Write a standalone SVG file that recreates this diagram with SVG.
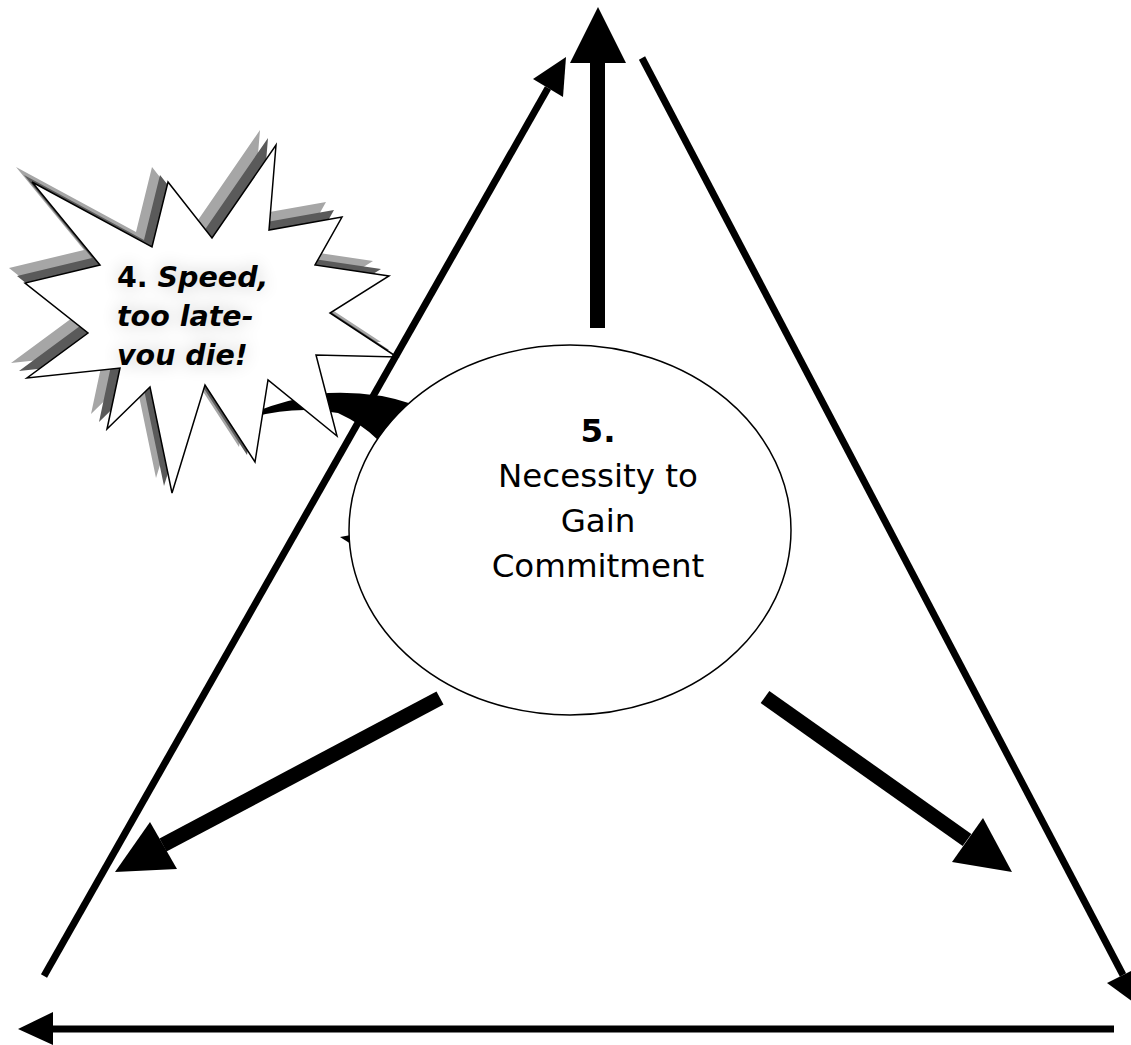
<svg xmlns="http://www.w3.org/2000/svg" width="1131" height="1045" viewBox="0 0 1131 1045">
  <style>
    .line { stroke: #000; stroke-width: 7; fill: none; stroke-linecap: butt; }
    .shaft { stroke: #000; stroke-width: 15; fill: none; stroke-linecap: butt; }
    .head { fill: #000; stroke: none; }
    .label { font-family: "DejaVu Sans", Verdana, sans-serif; fill: #000; }
    .burst-text { font-size: 28.5px; font-weight: bold; }
  </style>
  <defs>
    <polygon id="burst" points="32,182 152,247 168,182 212,238 276,145 269,230 342,217 315,265 389,276 330,313 397,357 316,355 337,436 268,380 255,462 205,385 172,493 150,387 107,429 120,368 27,378 88,333 25,283 100,265"/>
    <filter id="haze" x="-30%" y="-30%" width="160%" height="160%">
      <feGaussianBlur stdDeviation="9"/>
    </filter>
    <g id="burst-lines">
      <text class="label burst-text" x="117" y="287">4. <tspan font-style="italic">Speed,</tspan></text>
      <text class="label burst-text" font-style="italic" x="117" y="326">too late-</text>
      <text class="label burst-text" font-style="italic" x="117" y="365">vou die!</text>
    </g>
  </defs>
  <rect width="1131" height="1045" fill="#fff"/>

  <!-- curved pointer between the burst and the ellipse (mostly hidden) -->
  <g id="curved-pointer">
    <path class="head" d="M 240,418 Q 280,400 328,393 Q 375,391 412,404 L 378,440 Q 362,424 338,413 Q 290,404 240,421 Z"/>
    <polygon class="head" points="340,537 351,535 351,544"/>
  </g>

  <!-- burst callout with stacked drop shadows -->
  <g id="node-speed">
    <use href="#burst" transform="translate(-16,-15)" fill="#a6a6a6"/>
    <use href="#burst" transform="translate(-8,-7)" fill="#5a5a5a"/>
    <use href="#burst" fill="#fff" stroke="#000" stroke-width="1.5" stroke-linejoin="miter"/>
    <use href="#burst-lines" filter="url(#haze)" opacity="0.22"/>
    <use href="#burst-lines"/>
  </g>

  <!-- triangle of connectors -->
  <g id="connectors">
    <!-- left side, pointing up -->
    <line class="line" x1="44" y1="976" x2="548" y2="88"/>
    <polygon class="head" points="566,57 533,79 563,97"/>
    <!-- right side, pointing down -->
    <line class="line" x1="642" y1="58" x2="1123" y2="975"/>
    <polygon class="head" points="1140,1007 1107,983 1139,967"/>
    <!-- base, pointing left -->
    <line class="line" x1="1114" y1="1029" x2="53" y2="1029" stroke-width="8"/>
    <polygon class="head" points="18,1029 53,1012 53,1045"/>
    <!-- from the ellipse: up -->
    <line class="shaft" x1="597.5" y1="328" x2="597.5" y2="62" stroke-width="17"/>
    <polygon class="head" points="598,7 570,63 626,63"/>
    <!-- from the ellipse: down-left -->
    <line class="shaft" x1="440" y1="698" x2="163" y2="845"/>
    <polygon class="head" points="115,872 150,822 177,869"/>
    <!-- from the ellipse: down-right -->
    <line class="shaft" x1="765" y1="697" x2="967" y2="840"/>
    <polygon class="head" points="1012,872 983,818 952,862"/>
  </g>

  <!-- central ellipse -->
  <g id="node-commitment">
    <ellipse cx="570" cy="530" rx="221" ry="185" fill="#fff" stroke="#000" stroke-width="1.5"/>
    <text class="label" font-size="32.5" text-anchor="middle" x="598" y="442" font-weight="bold">5.</text>
    <text class="label" font-size="32.5" text-anchor="middle" x="598" y="487">Necessity to</text>
    <text class="label" font-size="32.5" text-anchor="middle" x="598" y="532">Gain</text>
    <text class="label" font-size="32.5" text-anchor="middle" x="598" y="577">Commitment</text>
  </g>
</svg>
